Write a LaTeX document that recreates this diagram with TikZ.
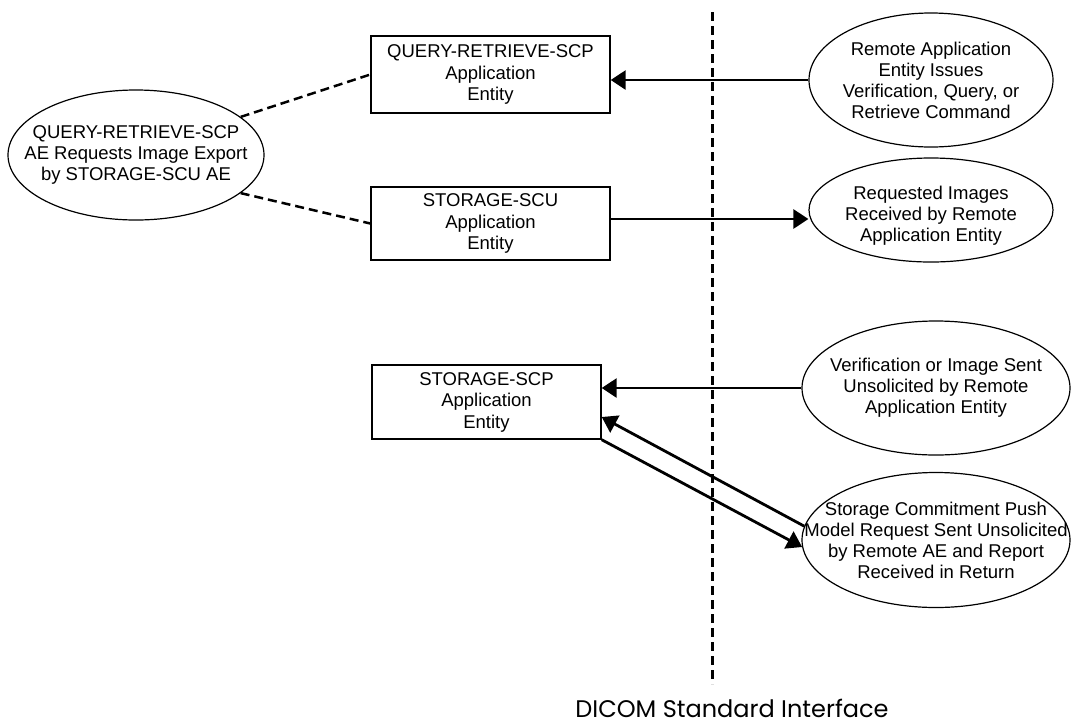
\documentclass[tikz,border=0pt]{standalone}
\usepackage{fontspec}
\setmainfont{Liberation Sans}
\newfontfamily\ifacefont{Poppins}
\usetikzlibrary{shapes.geometric,arrows.meta}

\tikzset{
	aebox/.style={draw=black, line width=1.4pt, rectangle, align=center,
		inner sep=0pt, font=\fontsize{18.5}{21.5}\selectfont},
	remote/.style={draw=black, line width=1.2pt, ellipse, inner sep=0pt},
	remotetext/.style={align=center, inner sep=0pt,
		font=\fontsize{18.5}{21}\selectfont},
	msg/.style={line width=2.8pt, -{Triangle[length=15pt,width=19pt]}},
	assoc/.style={line width=2.5pt, dash pattern=on 9pt off 5pt},
}

\begin{document}
\begin{tikzpicture}[x=1pt, y=-1pt]
	\useasboundingbox (0,0) rectangle (1077,724);
	% Schnittstelle
	\coordinate (ifacetop) at (712,12);
	\coordinate (ifacebot) at (712,684);
	\draw[line width=3pt, dash pattern=on 9pt off 5pt] (ifacetop) -- (ifacebot);
	\node[font=\ifacefont\fontsize{24}{26}\selectfont] (iface) at (732,708)
		{DICOM Standard Interface};

	% Application Entities
	\node[aebox, minimum width=239pt, minimum height=77pt] (qrscp) at (490.5,74.5)
		{QUERY-RETRIEVE-SCP\\Application\\Entity};
	\node[aebox, minimum width=239pt, minimum height=73pt] (stscu) at (490.5,223.5)
		{STORAGE-SCU\\Application\\Entity};
	\node[aebox, minimum width=229pt, minimum height=74pt] (stscp) at (486.5,402)
		{STORAGE-SCP\\Application\\Entity};

	% Aktivitaeten
	\node[remote, minimum width=256pt, minimum height=130pt] (export) at (136,155) {};
	\node[remotetext] (export-t) at (export) {QUERY-RETRIEVE-SCP\\AE Requests Image Export\\by STORAGE-SCU AE};
	\node[remote, minimum width=244pt, minimum height=134pt] (issue) at (931,80) {};
	\node[remotetext] (issue-t) at (issue) {Remote Application\\Entity Issues\\Verification, Query, or\\Retrieve Command};
	\node[remote, minimum width=244pt, minimum height=104pt] (received) at (931,210) {};
	\node[remotetext] (received-t) at (931,216) {Requested Images\\Received by Remote\\Application Entity};
	\node[remote, minimum width=268pt, minimum height=134pt] (unsolicited) at (936,388) {};
	\node[remotetext] (unsolicited-t) at (unsolicited) {Verification or Image Sent\\Unsolicited by Remote\\Application Entity};
	\node[remote, minimum width=268pt, minimum height=135pt] (commit) at (936,540) {};
	\node[remotetext] (commit-t) at (commit) {Storage Commitment Push\\Model Request Sent Unsolicited\\by Remote AE and Report\\Received in Return};

	% Verbindungen
	\draw[assoc] (export.20) -- (qrscp.west);
	\draw[assoc] (export.-20) -- (stscu.west);
	\draw[msg] (issue.west) -- (qrscp.east |- issue.west);
	\draw[msg] (stscu.east |- 0,219) -- (received.west |- 0,219);
	\draw[msg] (unsolicited.west) -- (stscp.east |- unsolicited.west);
	\draw[msg] (commit.174) -- ([yshift=-15pt]stscp.east);
	\draw[msg] (stscp.south east) -- (commit.183);
\end{tikzpicture}
\end{document}
